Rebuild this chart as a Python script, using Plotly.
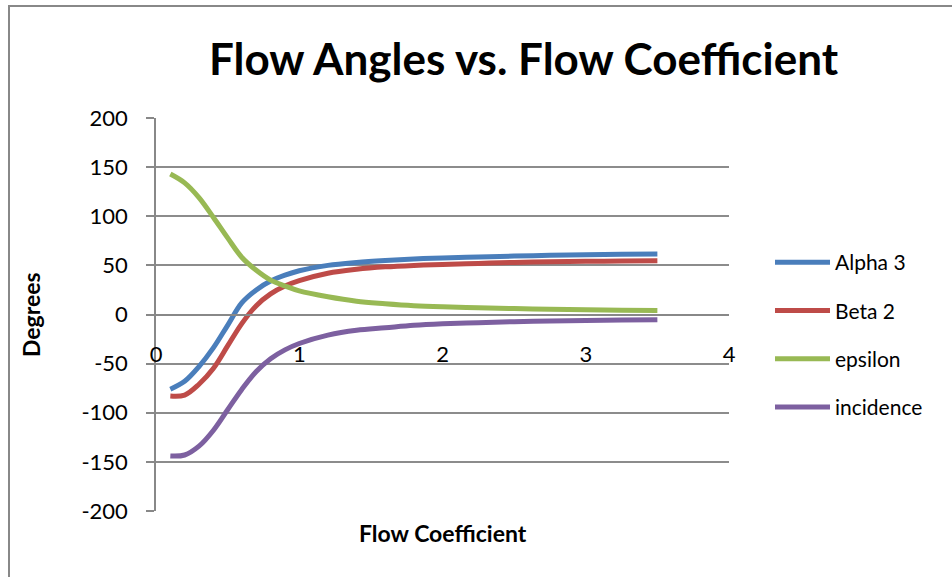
import plotly.graph_objects as go

flow_coefficient = [0.1, 0.2, 0.3, 0.4, 0.5, 0.6, 0.7, 0.8, 0.9, 1.0, 1.2, 1.4, 1.6, 1.8, 2.0, 2.25, 2.5, 2.75, 3.0, 3.25, 3.5]
alpha_3 = [-76, -68, -53, -34, -11, 12, 25, 34, 40, 44.5, 50, 53, 55, 56.5, 57.5, 58.5, 59.5, 60.2, 60.8, 61.2, 61.5]
beta_2 = [-83, -82, -71, -55, -32, -9, 9, 21, 29, 34.5, 42, 46, 48.5, 50, 51, 52, 53, 53.6, 54.1, 54.5, 54.8]
epsilon = [143, 134, 119, 99, 78, 58, 45, 35, 29, 24, 18, 13.5, 11, 9, 7.8, 6.8, 6, 5.3, 4.8, 4.4, 4.1]
incidence = [-144, -143, -134, -118, -97, -76, -58, -45, -36, -29.5, -21, -16, -13.5, -11, -9.5, -8.3, -7.3, -6.6, -6, -5.7, -5.4]

series_names = ["Alpha 3", "Beta 2", "epsilon", "incidence"]
series_values = [alpha_3, beta_2, epsilon, incidence]
series_colors = ["#4A7EBB", "#BE4B48", "#98B954", "#7D60A0"]

y_ticks = [200, 150, 100, 50, 0, -50, -100, -150, -200]
y_tick_labels = ["200", "150", "100", "50", "0", "-50", "-100", "-150", "-200"]
x_ticks = [0, 1, 2, 3, 4]

W, H = 952, 577
L, R, T, B = 156, 729, 118, 511
FONT = "Lato"

fig = go.Figure()
for i, (name, vals, col) in enumerate(zip(series_names, series_values, series_colors)):
    fig.add_trace(go.Scatter(
        x=flow_coefficient, y=vals, name=name, mode="lines",
        line=dict(color=col, width=5, shape="spline", smoothing=1.0),
        legendgroup=f"g{i}",
    ))

def px_x(p):
    return (p - L) / (R - L)

def px_y(p):
    return 1 - (p - T) / (B - T)

fig.update_layout(
    width=W, height=H,
    margin=dict(l=L, r=W - R, t=T, b=H - B, autoexpand=False),
    paper_bgcolor="white", plot_bgcolor="white",
    font=dict(family=FONT, size=22, color="black"),
    title=dict(text="<b>Flow Angles vs. Flow Coefficient</b>", x=523.5 / W, xanchor="center",
               y=1 - 60 / H, yanchor="middle", font=dict(size=44, family=FONT, color="black")),
    showlegend=True,
    legend=dict(x=px_x(770), xanchor="left", y=px_y(335), yanchor="middle",
                font=dict(size=21, family=FONT), itemwidth=55, tracegroupgap=18,
                traceorder="grouped", bgcolor="rgba(0,0,0,0)"),
    xaxis=dict(range=[0, 4], tickvals=x_ticks, showgrid=False, zeroline=False,
               showline=True, linecolor="#888888", linewidth=1.5,
               anchor="free", position=0.5, ticks="", ticklabelstandoff=20,
               tickfont=dict(size=22, family=FONT)),
    yaxis=dict(range=[-200, 200], tickvals=y_ticks, ticktext=y_tick_labels,
               showgrid=True, gridcolor="#8c8c8c", gridwidth=1.5,
               zeroline=False, showline=True, linecolor="#888888", linewidth=1.5,
               ticks="outside", ticklen=8, tickcolor="#888888", tickwidth=1.5,
               ticklabelstandoff=14, tickfont=dict(size=22, family=FONT)),
    shapes=[
        dict(type="line", xref="paper", yref="paper", x0=px_x(9), x1=px_x(9), y0=px_y(6), y1=px_y(H + 5),
             line=dict(color="#888888", width=2)),
        dict(type="line", xref="paper", yref="paper", x0=px_x(8), x1=px_x(W + 5), y0=px_y(6), y1=px_y(6),
             line=dict(color="#888888", width=2)),
    ],
    annotations=[
        dict(text="<b>Flow Coefficient</b>", xref="paper", yref="paper", x=px_x(443), y=px_y(533),
             xanchor="center", yanchor="middle", showarrow=False, font=dict(size=23, family=FONT)),
        dict(text="<b>Degrees</b>", xref="paper", yref="paper", x=px_x(31), y=px_y(315),
             xanchor="center", yanchor="middle", textangle=-90, showarrow=False,
             font=dict(size=23, family=FONT)),
    ],
)

fig.write_html("out.html", config={"displayModeBar": False},
               post_script="document.body.style.margin='0';document.body.style.padding='0';")
